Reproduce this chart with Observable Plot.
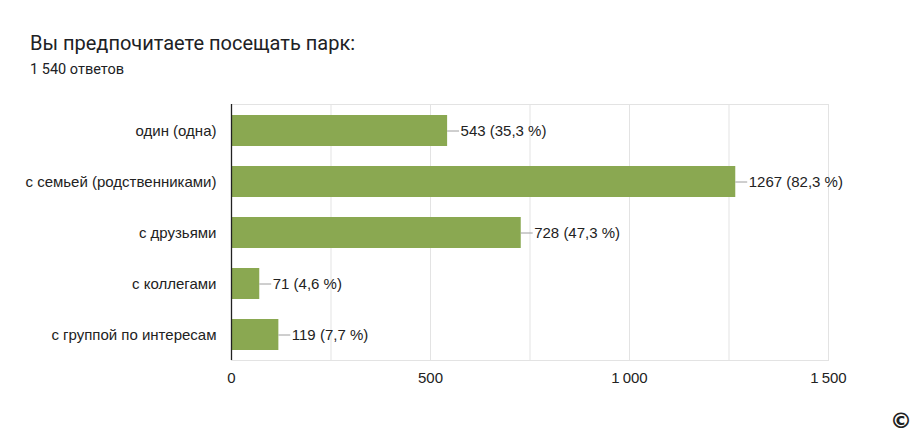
<!DOCTYPE html>
<html><head><meta charset="utf-8">
<script src="https://cdn.jsdelivr.net/npm/d3@7"></script>
<script src="https://cdn.jsdelivr.net/npm/@observablehq/plot@0.6"></script>
<style>
body{margin:0;background:#fff;width:920px;height:437px;position:relative;overflow:hidden;}
#title{position:absolute;left:30px;top:31px;font-family:Roboto,sans-serif;font-size:20px;color:#202124;}
#sub{position:absolute;left:30px;top:61px;font-family:Roboto,sans-serif;font-size:14.5px;color:#202124;}
#copy{position:absolute;left:890px;top:408px;font-family:"DejaVu Sans",sans-serif;font-size:22px;font-weight:bold;color:#222;}
#chart{position:absolute;left:0;top:0;}
</style></head>
<body>
<div id="chart"></div>
<div id="title">Вы предпочитаете посещать парк:</div>
<div id="sub">1 540 ответов</div>
<div id="copy">©</div>
<script>
const categories = ["один (одна)", "с семьей (родственниками)", "с друзьями", "с коллегами", "с группой по интересам"];
const counts = [543, 1267, 728, 71, 119];
const percents = ["35,3", "82,3", "47,3", "4,6", "7,7"];
const xTicks = [0, 500, 1000, 1500];
const gridTicks = [250, 500, 750, 1000, 1250, 1500];

const data = categories.map((c, i) => ({cat: c, value: counts[i], label: `${counts[i]} (${percents[i]} %)`}));
const fmt = v => v === 0 ? "0" : d3.format(",")(v).replace(/,/g, "\u2009");
const leader = 30;

const chart = Plot.plot({
  width: 920, height: 437,
  marginLeft: 231, marginRight: 92, marginTop: 104, marginBottom: 77,
  style: {fontFamily: "'Liberation Sans', Arial, sans-serif", fontSize: "15px", color: "#222"},
  x: {domain: [0, 1500], ticks: xTicks, tickFormat: fmt, label: null, tickSize: 0, tickPadding: 12},
  y: {domain: categories, label: null, paddingInner: 0.4, paddingOuter: 0.2, tickSize: 0, tickPadding: 15},
  marks: [
    Plot.gridX(gridTicks, {stroke: "#e3e3e3", strokeOpacity: 1}),
    Plot.frame({stroke: "#e3e3e3"}),
    Plot.barX(data, {x: "value", y: "cat", fill: "#8aa851"}),
    Plot.ruleY(data, {y: "cat", x1: "value", x2: d => d.value + leader, stroke: "#9e9e9e", strokeWidth: 1}),
    Plot.text(data, {y: "cat", x: d => d.value + leader, text: "label", textAnchor: "start", dx: 1, fill: "#222", fontSize: 15}),
    Plot.ruleX([0], {stroke: "#222", strokeWidth: 1.3}),
    Plot.axisX({ticks: xTicks, tickFormat: fmt, tickSize: 0, tickPadding: 12, fontSize: 15, label: null}),
    Plot.axisY({tickSize: 0, tickPadding: 15, fontSize: 15, label: null})
  ]
});
document.getElementById("chart").appendChild(chart);
</script>
</body></html>
